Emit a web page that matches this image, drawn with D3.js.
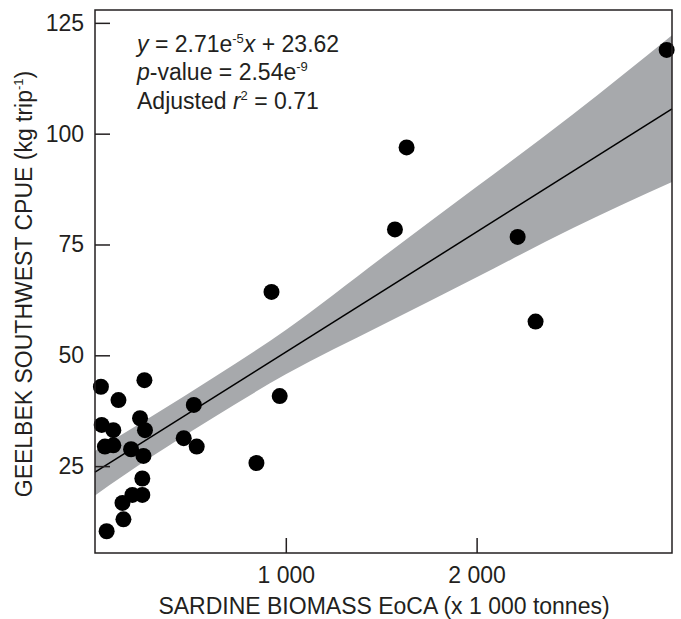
<!DOCTYPE html>
<html>
<head>
<meta charset="utf-8">
<script src="https://cdn.jsdelivr.net/npm/d3@7"></script>
<style>
  body { margin: 0; background: #fff; }
  svg { display: block; }
  text { font-family: "Liberation Sans", Arial, sans-serif; fill: #231f20; }
</style>
</head>
<body>
<svg id="chart" width="681" height="619"></svg>
<script>
// Data
const biomass = [31, 259, 123, 35, 96, 236, 262, 52, 96, 189, 254, 248, 248, 196, 144, 149, 61,
                 518, 465, 533, 846, 968, 925, 1572, 1633, 2215, 2309, 2996];
const cpue    = [42.9, 44.4, 39.9, 34.3, 33.1, 35.8, 33.1, 29.4, 29.7, 28.8, 27.3, 22.2, 18.5, 18.5, 16.7, 13.0, 10.3,
                 38.8, 31.3, 29.4, 25.7, 40.8, 64.3, 78.4, 96.9, 76.7, 57.6, 118.9];

// Confidence band edges
const bandX     = [0, 300, 630, 1000, 1500, 2000, 2500, 3024];
const bandUpper = [28.4, 36.3, 45.2, 55.7, 71.9, 88.0, 104.2, 122.2];
const bandLower = [18.4, 27.2, 36.2, 45.7, 56.7, 67.6, 78.6, 89.1];

// Fitted regression (from the printed equation, x in 1 000 tonnes)
const fitSlope = 0.0271, fitIntercept = 23.62;
const lineX = [0, 3024];

const xTicks = [1000, 2000];
const xTickLabels = ["1 000", "2 000"];
const yTicks = [25, 50, 75, 100, 125];

const svg = d3.select("#chart");
const pL = 95, pR = 672, pT = 10, pB = 553;
const FS = 23;

const x = d3.scaleLinear().domain([0, 3024]).range([pL, pR]);
const y = d3.scaleLinear().domain([5.4, 127.9]).range([pB, pT]);

const g = svg.append("g");

// band
const band = bandX.map((d, i) => ({x: d, u: bandUpper[i], l: bandLower[i]}));
g.append("path")
  .datum(band)
  .attr("fill", "#a7a9ac")
  .attr("d", d3.area().curve(d3.curveMonotoneX)
    .x(d => x(d.x)).y0(d => y(d.l)).y1(d => y(d.u)));

// regression line
g.append("path")
  .datum(lineX.map(v => ({x: v, y: fitIntercept + fitSlope * v})))
  .attr("fill", "none").attr("stroke", "#000").attr("stroke-width", 1.5)
  .attr("d", d3.line().x(d => x(d.x)).y(d => y(d.y)));

// points
g.selectAll("circle.pt")
  .data(biomass.map((b, i) => ({x: b, y: cpue[i]})))
  .enter().append("circle")
  .attr("class", "pt")
  .attr("cx", d => x(d.x)).attr("cy", d => y(d.y)).attr("r", 8)
  .attr("fill", "#000");

// axes (ticks inward)
const xAxis = d3.axisBottom(x).tickValues(xTicks).tickSize(-15).tickPadding(14)
  .tickFormat((d, i) => xTickLabels[i]);
const yAxis = d3.axisLeft(y).tickValues(yTicks).tickSize(-15).tickPadding(11)
  .tickFormat(d3.format("d"));

const gx = svg.append("g").attr("transform", `translate(0,${pB})`).call(xAxis);
const gy = svg.append("g").attr("transform", `translate(${pL},0)`).call(yAxis);
[gx, gy].forEach(a => {
  a.select(".domain").remove();
  a.selectAll(".tick line").attr("stroke", "#231f20").attr("stroke-width", 1.5);
  a.selectAll(".tick text").attr("font-size", FS).attr("fill", "#231f20")
    .style("font-family", '"Liberation Sans", Arial, sans-serif');
});

// frame
svg.append("rect")
  .attr("x", pL).attr("y", pT).attr("width", pR - pL).attr("height", pB - pT)
  .attr("fill", "none").attr("stroke", "#231f20").attr("stroke-width", 1.5);

// axis titles
svg.append("text")
  .attr("x", 384).attr("y", 614)
  .attr("text-anchor", "middle").attr("font-size", FS)
  .text("SARDINE BIOMASS EoCA (x 1 000 tonnes)");

const yt = svg.append("text")
  .attr("transform", `translate(32,284) rotate(-90)`)
  .attr("text-anchor", "middle").attr("font-size", FS);
yt.append("tspan").text("GEELBEK SOUTHWEST CPUE (kg trip");
yt.append("tspan").attr("font-size", 13).attr("dy", -9).text("-1");
yt.append("tspan").attr("dy", 9).text(")");

// annotation
const ann = svg.append("g");
const t1 = ann.append("text").attr("x", 137).attr("y", 52).attr("font-size", FS);
t1.append("tspan").attr("font-style", "italic").text("y");
t1.append("tspan").text(" = 2.71e");
t1.append("tspan").attr("font-size", 13).attr("dy", -9).text("-5");
t1.append("tspan").attr("dy", 9).attr("font-style", "italic").text("x");
t1.append("tspan").text(" + 23.62");

const t2 = ann.append("text").attr("x", 137).attr("y", 80).attr("font-size", FS);
t2.append("tspan").attr("font-style", "italic").text("p");
t2.append("tspan").text("-value = 2.54e");
t2.append("tspan").attr("font-size", 13).attr("dy", -9).text("-9");

const t3 = ann.append("text").attr("x", 137).attr("y", 109).attr("font-size", FS);
t3.append("tspan").text("Adjusted ");
t3.append("tspan").attr("font-style", "italic").text("r");
t3.append("tspan").attr("font-size", 13).attr("dy", -9).text("2");
t3.append("tspan").attr("dy", 9).text(" = 0.71");
</script>
</body>
</html>
